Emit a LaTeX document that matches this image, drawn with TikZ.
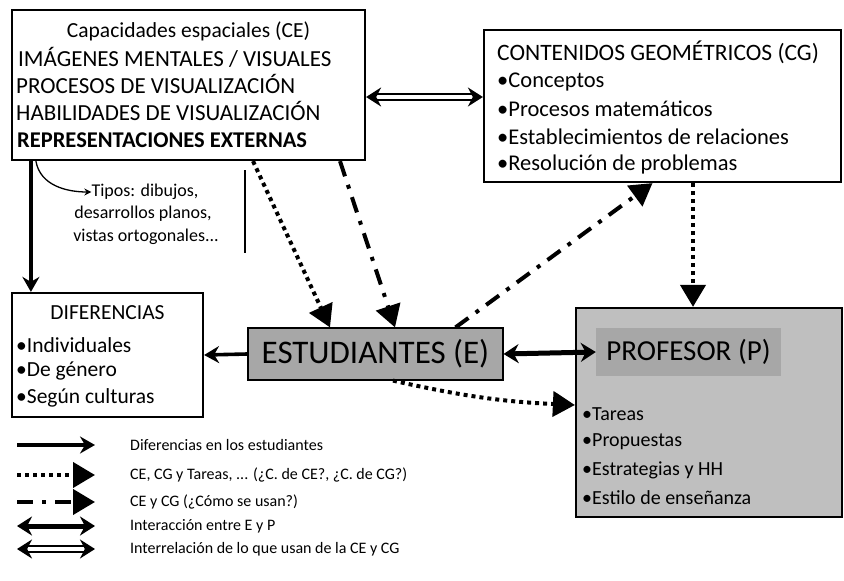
\documentclass[tikz,border=0pt]{standalone}
\usepackage{fontspec}
\setmainfont{Carlito}
\usetikzlibrary{arrows.meta, positioning, calc}

\begin{document}
\begin{tikzpicture}[x=1pt, y=-1pt,
    caja/.style={draw, line width=2.2pt, inner sep=0pt},
    linea/.style={inner sep=0pt, anchor=west},
    flecha/.style={line width=3.6pt, -{Stealth[length=15pt, width=17pt, inset=5pt]}},
    punteada/.style={line width=4pt, dash pattern=on 4pt off 4pt, -{Triangle[length=22pt, width=25pt]}},
    rayapunto/.style={line width=4pt, dash pattern=on 16pt off 9pt on 4pt off 9pt, -{Triangle[length=22pt, width=25pt]}},
    doble/.style={line width=5pt, {Stealth[length=15pt, width=19pt]}-{Stealth[length=15pt, width=19pt]}},
    dobleraya/.style={double, double distance=3.5pt, line width=1.8pt, {Stealth[length=15pt, width=19pt]}-{Stealth[length=15pt, width=19pt]}}
]
        \useasboundingbox (0,0) rectangle (844,581);

        % Capacidades espaciales
        \node[caja, minimum width=353pt, minimum height=150pt] (ce) at (188.5,85) {};
        \node[inner sep=0pt, font=\fontsize{21.5}{24}\selectfont] (ceT) at (188.5,31) {Capacidades espaciales (CE)};
        \node[linea, font=\fontsize{23}{26}\selectfont] (ce1) at (18,57) {IMÁGENES MENTALES / VISUALES};
        \node[linea, font=\fontsize{23}{26}\selectfont] (ce2) at (16,84) {PROCESOS DE VISUALIZACIÓN};
        \node[linea, font=\fontsize{23}{26}\selectfont] (ce3) at (16,111) {HABILIDADES DE VISUALIZACIÓN};
        \node[linea, font=\bfseries\fontsize{22.5}{26}\selectfont] (ce4) at (17,140) {REPRESENTACIONES EXTERNAS};

        % Contenidos geometricos
        \node[caja, minimum width=357pt, minimum height=152pt] (cg) at (662.5,106) {};
        \node[linea, font=\fontsize{23.5}{26}\selectfont] (cgT) at (497,52) {CONTENIDOS GEOMÉTRICOS (CG)};
        \node[linea, font=\fontsize{22.5}{26}\selectfont] (cg1) at (497,82) {•Conceptos};
        \node[linea, font=\fontsize{22.5}{26}\selectfont] (cg2) at (497,109) {•Procesos matemáticos};
        \node[linea, font=\fontsize{22.5}{26}\selectfont] (cg3) at (497,137) {•Establecimientos de relaciones};
        \node[linea, font=\fontsize{22.5}{26}\selectfont] (cg4) at (497,164) {•Resolución de problemas};

        % Nota bajo CE
        \node[inner sep=0pt, font=\fontsize{18}{20}\selectfont] (tipos1) at (145,192) {Tipos: dibujos,};
        \node[inner sep=0pt, font=\fontsize{18}{20}\selectfont] (tipos2) at (143,214) {desarrollos planos,};
        \node[inner sep=0pt, font=\fontsize{18}{20}\selectfont] (tipos3) at (146,237) {vistas ortogonales...};
        \draw[line width=1.5pt] (245,170) -- (245,253);
        \draw[line width=1.3pt, -{Stealth[length=7pt, width=7pt]}] ([xshift=25pt]ce.south west) to[out=-80, in=180] (tipos1.west);

        % Diferencias
        \node[caja, minimum width=191pt, minimum height=124pt] (dif) at (107.5,355) {};
        \node[inner sep=0pt, font=\fontsize{21.5}{24}\selectfont] (difT) at (107.5,313) {DIFERENCIAS};
        \node[linea, font=\fontsize{21.5}{24}\selectfont] (dif1) at (16,345) {•Individuales};
        \node[linea, font=\fontsize{21.5}{24}\selectfont] (dif2) at (16,371) {•De género};
        \node[linea, font=\fontsize{21.5}{24}\selectfont] (dif3) at (16,398) {•Según culturas};

        % Estudiantes
        \node[draw, line width=1.2pt, fill=gray!85!black!60, minimum width=255pt, minimum height=52pt, font=\fontsize{33}{36}\selectfont] (est) at (375.5,354) {ESTUDIANTES (E)};

        % Profesor
        \node[caja, fill=gray!50, minimum width=266pt, minimum height=209pt] (prof) at (709,412.5) {};
        \node[fill=gray!85!black!60, minimum width=185pt, minimum height=48pt, font=\fontsize{29}{32}\selectfont] (profT) at (688.5,352) {PROFESOR (P)};
        \node[linea, font=\fontsize{20}{22}\selectfont] (prof1) at (582,414) {•Tareas};
        \node[linea, font=\fontsize{20}{22}\selectfont] (prof2) at (582,442) {•Propuestas};
        \node[linea, font=\fontsize{20}{22}\selectfont] (prof3) at (582,470) {•Estrategias y HH};
        \node[linea, font=\fontsize{20}{22}\selectfont] (prof4) at (582,498) {•Estilo de enseñanza};

        % Conexiones
        \draw[flecha] ([xshift=20pt]ce.south west) -- ([xshift=20pt]dif.north west);
        \draw[dobleraya] ([yshift=-12pt]ce.east) -- ([yshift=9pt]cg.west);
        \draw[punteada] ([xshift=64.5pt]ce.south) -- ([xshift=-45.5pt]est.north);
        \draw[rayapunto] ([xshift=151.5pt]ce.south) -- ([xshift=19.5pt]est.north);
        \draw[rayapunto] ([xshift=80pt]est.north) -- ([xshift=-10pt]cg.south);
        \draw[punteada] ([xshift=30.5pt]cg.south) -- ([xshift=-16pt]prof.north);
        \draw[flecha] (est.west) -- (dif.east);
        \draw[doble] (est.east) -- (profT.west);
        \draw[punteada] ([xshift=17.5pt]est.south) to[bend right=5] ([yshift=7.5pt]prof.west);

        % Leyenda
        \coordinate (la1) at (17,445);  \coordinate (lb1) at (95,445);
        \coordinate (la2) at (17,475);  \coordinate (lb2) at (95,475);
        \coordinate (la3) at (17,502);  \coordinate (lb3) at (95,502);
        \coordinate (la4) at (17,526);  \coordinate (lb4) at (95,526);
        \coordinate (la5) at (17,549);  \coordinate (lb5) at (95,549);
        \draw[flecha] (la1) -- (lb1);
        \draw[punteada] (la2) -- (lb2);
        \draw[rayapunto] (la3) -- (lb3);
        \draw[doble] (la4) -- (lb4);
        \draw[dobleraya] (la5) -- (lb5);
        \node[linea, font=\fontsize{16}{18}\selectfont] (ley1) at (130,445) {Diferencias en los estudiantes};
        \node[linea, font=\fontsize{16}{18}\selectfont] (ley2) at (130,475) {CE, CG y Tareas, ... (¿C. de CE?, ¿C. de CG?)};
        \node[linea, font=\fontsize{16}{18}\selectfont] (ley3) at (130,502) {CE y CG (¿Cómo se usan?)};
        \node[linea, font=\fontsize{16}{18}\selectfont] (ley4) at (130,526) {Interacción entre E y P};
        \node[linea, font=\fontsize{16}{18}\selectfont] (ley5) at (130,549) {Interrelación de lo que usan de la CE y CG};
    \end{tikzpicture}
\end{document}
